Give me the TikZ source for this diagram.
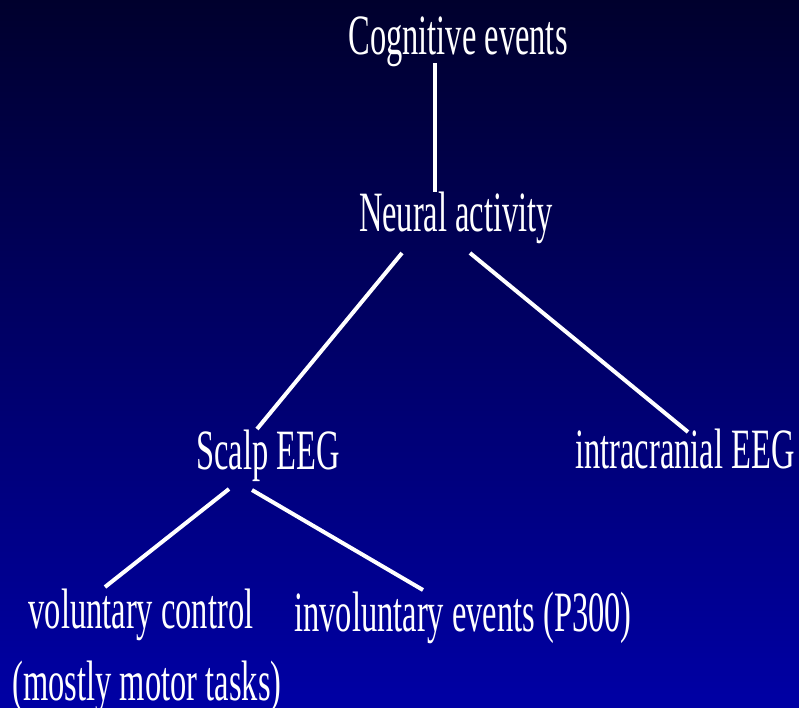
\documentclass[tikz,border=0pt]{standalone}
\usepackage{fontspec}
\newfontfamily\slidefont[FakeStretch=0.57]{Liberation Serif}
\definecolor{bgtop}{RGB}{0,0,45}
\definecolor{bgbot}{RGB}{0,0,165}
\begin{document}
\begin{tikzpicture}[x=1pt,y=-1pt,
  lbl/.style={text=white,inner sep=0pt,anchor=base,font=\slidefont\fontsize{57}{57}\selectfont},
  conn/.style={draw=white,line width=4pt}]
\shade[top color=bgtop,bottom color=bgbot] (0,0) rectangle (799,708);
\useasboundingbox (0,0) rectangle (799,708);
\node[lbl] (cog) at (458,55) {Cognitive events};
\node[lbl] (neural) at (456,232) {Neural activity};
\node[lbl] (scalp) at (268,469) {Scalp EEG};
\node[lbl] (intra) at (685,468) {intracranial EEG};
\node[lbl] (vol) at (141,628) {voluntary control};
\node[lbl] (mostly) at (147,700) {(mostly motor tasks)};
\node[lbl] (invol) at (463,631) {involuntary events (P300)};
\draw[conn] ([shift={(-23,8)}]cog.base) -- ([shift={(-21,-40)}]neural.base);
\draw[conn] ([shift={(-54,21)}]neural.base) -- ([shift={(-11,-40)}]scalp.base);
\draw[conn] ([shift={(14,21)}]neural.base) -- ([shift={(3,-36)}]intra.base);
\draw[conn] ([shift={(-39,20)}]scalp.base) -- ([shift={(-36,-41)}]vol.base);
\draw[conn] ([shift={(-16,21)}]scalp.base) -- ([shift={(-40,-41)}]invol.base);
\end{tikzpicture}
\end{document}
